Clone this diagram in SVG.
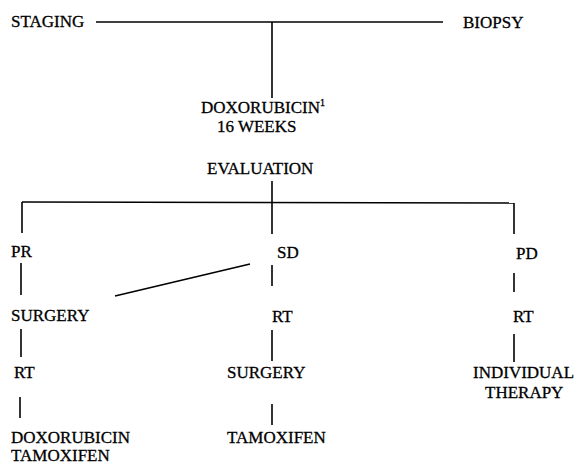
<svg xmlns="http://www.w3.org/2000/svg" width="580" height="466" viewBox="0 0 580 466">
<style>
.c line{stroke:#000;stroke-width:1.6;fill:none}
</style>
<rect width="580" height="466" fill="#fff"/>
<g class="c" id="connectors">
<line x1="96" y1="22" x2="443" y2="22"/>
<line x1="272" y1="22" x2="272" y2="98"/>
<line x1="272" y1="181" x2="272" y2="234"/>
<line x1="22" y1="202" x2="514" y2="203"/>
<line x1="22" y1="202" x2="22" y2="233"/>
<line x1="514" y1="203" x2="514" y2="234"/>
<line x1="21" y1="263" x2="21" y2="295"/>
<line x1="272" y1="265" x2="272" y2="286"/>
<line x1="514" y1="273" x2="514" y2="292"/>
<line x1="115" y1="296" x2="250" y2="264"/>
<line x1="21" y1="329" x2="21" y2="357"/>
<line x1="272" y1="330" x2="272" y2="361"/>
<line x1="514" y1="334" x2="514" y2="362"/>
<line x1="20" y1="397" x2="20" y2="418"/>
<line x1="272" y1="404" x2="272" y2="425"/>
</g>
<g font-family="Liberation Serif, DejaVu Serif, serif" font-size="17" fill="#000" stroke="#000" stroke-width="0.3">
<g id="staging"><text x="11" y="27">STAGING</text></g>
<g id="biopsy"><text x="463" y="28">BIOPSY</text></g>
<g id="doxo"><text x="201" y="113">DOXORUBICIN<tspan font-size="10" dy="-7">1</tspan></text><text x="217" y="132">16 WEEKS</text></g>
<g id="evaluation"><text x="207" y="174">EVALUATION</text></g>
<g id="pr"><text x="11" y="257">PR</text></g>
<g id="sd"><text x="277" y="258">SD</text></g>
<g id="pd"><text x="516" y="259">PD</text></g>
<g id="surgery1"><text x="11" y="321">SURGERY</text></g>
<g id="rt2"><text x="272" y="322">RT</text></g>
<g id="rt3"><text x="513" y="322">RT</text></g>
<g id="rt1"><text x="14" y="378">RT</text></g>
<g id="surgery2"><text x="227" y="378">SURGERY</text></g>
<g id="individual"><text x="473" y="378">INDIVIDUAL</text><text x="485" y="398">THERAPY</text></g>
<g id="doxtam"><text x="11" y="443">DOXORUBICIN</text><text x="11" y="461">TAMOXIFEN</text></g>
<g id="tam"><text x="227" y="443">TAMOXIFEN</text></g>
</g>
</svg>
